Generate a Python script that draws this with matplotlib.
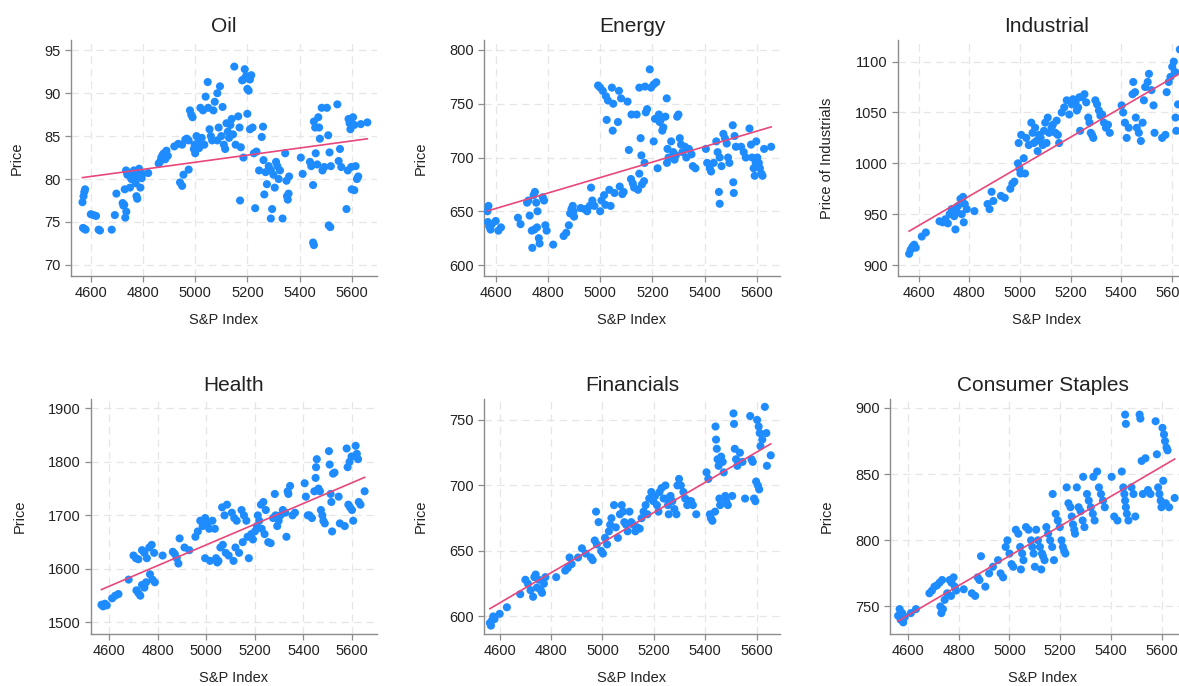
import numpy as np
import matplotlib
matplotlib.use("Agg")
import matplotlib.pyplot as plt

plt.rcParams['font.family'] = ['Liberation Sans', 'DejaVu Sans']

# ---- data (S&P index vs sector price) ----
oil_x = [4568, 4572, 4575, 4578, 4570, 4575, 4580,
         4600, 4610, 4620,
         4630, 4635,
         4680,
         4692, 4698,
         4722, 4725, 4728, 4732, 4736, 4730, 4735, 4738, 4740,
         4750, 4755, 4760, 4765, 4770, 4772, 4775, 4778, 4780, 4785, 4790, 4795, 4798,
         4820,
         4860, 4865, 4870, 4875, 4880, 4885, 4890, 4895,
         4920, 4935, 4950,
         4942, 4950, 4955,
         4962, 4968, 4975, 4980, 4985, 4990, 4975, 4995, 4998, 5000,
         5005, 5010, 5015, 5020, 5030, 5040, 5025, 5035,
         5048, 5050, 5055, 5060, 5065, 5070, 5075,
         5085, 5095, 5105, 5090, 5100, 5110, 5115, 5085, 5120,
         5125, 5130, 5135, 5140, 5150, 5145, 5155,
         5165, 5170, 5175, 5185, 5172, 5180, 5190, 5195, 5185,
         5200, 5205, 5210, 5215, 5200, 5210, 5220, 5225, 5235, 5230,
         5245, 5255, 5260, 5262, 5265, 5270, 5275,
         5282, 5290, 5290, 5295, 5300, 5305, 5310, 5315, 5320,
         5325, 5335, 5345, 5350, 5352, 5355, 5358, 5360,
         5405, 5412,
         5440, 5445, 5452, 5452, 5455, 5455, 5460, 5462, 5468,
         5472, 5475, 5478, 5485, 5488, 5495,
         5505, 5510, 5515, 5520, 5512, 5518,
         5545, 5550, 5555, 5560,
         5580, 5585, 5588, 5592, 5595, 5598, 5600,
         5605, 5610, 5615, 5620, 5610, 5625, 5635,
         5660]
oil_y = [77.3, 78.0, 78.5, 78.8, 74.3, 74.2, 74.1,
         75.9, 75.8, 75.7,
         74.1, 74.0,
         74.1,
         75.8, 78.3,
         77.2, 76.9, 77.0, 75.5, 76.2, 78.8, 81.0, 80.8, 80.5,
         79.0, 80.0, 80.3, 81.0, 80.0, 79.5, 78.0, 77.7, 80.8, 81.2, 79.0, 80.1, 80.6,
         80.7,
         81.8, 82.0, 82.5, 82.8, 83.0, 82.3, 83.3, 82.7,
         83.8, 84.1, 84.0,
         79.6, 79.2, 80.5,
         84.6, 84.7, 84.5, 88.0, 87.5, 87.2, 81.1, 83.5, 84.0, 83.0,
         85.0, 84.2, 83.6, 88.3, 88.0, 89.6, 84.8, 84.0,
         91.3, 88.3, 85.8, 85.0, 84.5, 88.0, 89.0,
         90.0, 90.8, 88.4, 86.0, 85.0, 84.0, 83.5, 84.5, 86.5,
         85.5, 84.8, 86.3, 87.0, 93.1, 85.2, 84.0,
         87.3, 86.0, 83.7, 82.5, 77.5, 91.5, 92.8, 92.0, 91.6,
         90.5, 90.3, 91.6, 92.1, 87.6, 85.8, 86.0, 83.0, 83.2, 76.6,
         81.0, 84.9, 86.1, 82.2, 78.2, 80.8, 79.4,
         81.5, 81.0, 75.4, 76.5, 80.5, 79.0, 82.0, 81.5, 80.0,
         81.0, 75.4, 83.0, 79.8, 78.0, 77.6, 78.3, 80.3,
         82.5, 80.6,
         82.0, 81.5, 79.3, 72.6, 72.3, 86.7, 86.0, 83.0, 81.7,
         87.2, 86.0, 84.7, 88.3, 81.0, 81.4,
         88.3, 85.1, 83.1, 81.5, 74.6, 74.4,
         88.7, 82.1, 83.5, 81.4,
         76.5, 81.0, 87.0, 86.5, 85.8, 81.4, 78.8,
         87.2, 86.3, 81.5, 80.0, 78.7, 80.3, 86.4,
         86.6]

en_x = [4568, 4572, 4570, 4575, 4580, 4585,
        4600, 4610, 4620,
        4685, 4695,
        4720, 4725, 4730, 4738, 4740,
        4745, 4750, 4755, 4760, 4748, 4758, 4765, 4768,
        4780, 4785, 4790, 4795,
        4820,
        4860, 4870, 4880,
        4885, 4890, 4895, 4898, 4900,
        4925, 4940, 4950, 4960,
        4965, 4970, 4978,
        4992, 5000, 5010, 5000, 5005, 5015, 5020,
        5022, 5030, 5025, 5035, 5040,
        5045, 5050, 5048, 5055,
        5072, 5080, 5068, 5075, 5085, 5090,
        5105, 5120, 5110, 5118, 5125, 5130,
        5140, 5150, 5155, 5158, 5150, 5160, 5145, 5168,
        5172, 5175, 5180, 5170, 5190, 5195,
        5205, 5215, 5210, 5205, 5225, 5228, 5220,
        5232, 5238, 5242, 5255, 5250, 5258, 5262, 5256,
        5272, 5280, 5285, 5290, 5295, 5300,
        5305, 5310, 5315, 5325, 5330,
        5340, 5350, 5355, 5365,
        5405, 5410, 5420, 5425, 5435,
        5445, 5450, 5458, 5455, 5458, 5465,
        5472, 5478, 5485, 5490, 5495,
        5508, 5515, 5520, 5510, 5512,
        5540, 5550, 5558,
        5572, 5578, 5582, 5588, 5592, 5596, 5598,
        5602, 5608, 5612, 5618, 5622, 5628,
        5655]
en_y = [650, 655, 640, 636, 633, 638,
        641, 632, 635,
        644, 638,
        658, 660, 646, 632, 616,
        665, 668, 658, 650, 633, 635, 625, 620,
        663, 660, 637, 632,
        619,
        627, 630, 637,
        648, 652, 655, 650, 645,
        653, 652, 650, 655,
        672, 660, 655,
        767, 765, 762, 650, 660, 665, 656,
        757, 753, 735, 670, 655,
        765, 750, 725, 667,
        762, 755, 733, 673, 666, 668,
        752, 740, 707, 680, 676, 672,
        740, 765, 718, 702, 685, 675, 670, 678,
        766, 742, 745, 695, 782, 765,
        768, 770, 736, 715, 740, 733, 690,
        735, 725, 728, 755, 738, 708, 700, 695,
        715, 705, 698, 702, 738, 740,
        718, 712, 705, 710, 700,
        708, 703, 692, 690,
        708, 695, 690, 687, 695,
        715, 705, 700, 668, 657, 692,
        722, 718, 713, 700, 695,
        730, 720, 710, 677, 667,
        710, 705, 700,
        727, 712, 700, 690, 683, 695, 715,
        700, 695, 690, 685, 683, 708,
        710]

ind_x = [4562, 4568, 4575, 4582, 4588,
         4612, 4628,
         4682, 4695, 4705, 4715,
         4722, 4730, 4740, 4745, 4750, 4755,
         4765, 4775, 4782, 4770, 4778, 4790,
         4820,
         4872, 4880, 4888, 4895,
         4925, 4940,
         4962, 4970, 4978,
         4992, 4998, 5002, 4995, 5005,
         5015, 5020, 5025, 5035,
         5045, 5050, 5055, 5065, 5070, 5075, 5060,
         5082, 5090, 5095, 5100, 5110, 5115, 5105,
         5125, 5130, 5140, 5145, 5150, 5155,
         5165, 5175, 5185, 5195,
         5205, 5210, 5220, 5225, 5230, 5235, 5238,
         5245, 5255, 5262, 5270, 5275, 5280,
         5285, 5290, 5298, 5305, 5312, 5318,
         5325, 5332, 5340, 5348, 5355,
         5402, 5408, 5415,
         5422, 5430, 5445, 5448, 5455, 5458,
         5462, 5470, 5478, 5485, 5490, 5495,
         5505, 5510, 5520, 5528, 5532,
         5562, 5575, 5580, 5588, 5595,
         5602, 5608, 5612, 5615, 5618, 5625,
         5632, 5640, 5648]
ind_y = [911, 915, 918, 920, 917,
         928, 932,
         943, 942, 945, 941,
         950, 955, 948, 935, 952, 958,
         965, 967, 960, 950, 942, 955,
         953,
         960, 955, 972, 963,
         968, 966,
         975, 980, 982,
         1000, 995, 990, 1020, 1028,
         1005, 990, 1025, 1018,
         1040, 1030, 1020, 1022, 1012, 1028, 1035,
         1025, 1018, 1032, 1040, 1045, 1030, 1020,
         1035, 1038, 1030, 1042, 1028, 1020,
         1050, 1055, 1062, 1048,
         1058, 1063, 1060, 1052, 1055, 1065, 1032,
         1065, 1068, 1060, 1045, 1040, 1030,
         1028, 1025, 1062, 1058, 1052, 1047,
         1048, 1040, 1035, 1038, 1030,
         1057, 1050, 1040,
         1025, 1035, 1068, 1080, 1070, 1045,
         1035, 1030, 1022, 1040, 1062, 1075,
         1080, 1088, 1072, 1057, 1030,
         1025, 1028, 1070, 1080, 1085,
         1095, 1100, 1090, 1045, 1032, 1058,
         1112, 1090, 1085]

hl_x = [4568, 4575, 4582, 4590,
        4612, 4625, 4638,
        4680,
        4700, 4710, 4720, 4712, 4720, 4728,
        4735, 4745, 4755, 4735, 4745, 4752,
        4765, 4775, 4785, 4768, 4778, 4788,
        4820,
        4862, 4870, 4878, 4885, 4890,
        4910, 4930,
        4955, 4965, 4975, 4985,
        4995, 5005, 5012, 4995, 5015,
        5025, 5035, 5040, 5045, 5050, 5058,
        5065, 5075, 5085, 5068, 5080, 5092,
        5105, 5115, 5125, 5112, 5120, 5135,
        5145, 5155, 5165, 5175, 5150, 5170,
        5185, 5192, 5200, 5208, 5212, 5218,
        5225, 5235, 5245, 5228, 5240, 5255,
        5265, 5275, 5285, 5282, 5292, 5298,
        5305, 5315, 5325, 5330, 5335, 5338,
        5345, 5355, 5365,
        5405, 5410, 5418,
        5425, 5435, 5445, 5450, 5452, 5455,
        5462, 5468, 5472, 5478, 5482, 5488,
        5505, 5508, 5512, 5515, 5518, 5522, 5528,
        5545, 5550, 5570, 5578,
        5582, 5590, 5598, 5585, 5592, 5600, 5605,
        5615, 5620, 5625, 5628, 5635,
        5652]
hl_y = [1533, 1530, 1535, 1532,
        1545, 1550, 1553,
        1580,
        1625, 1620, 1618, 1560, 1555, 1550,
        1635, 1630, 1620, 1570, 1565, 1575,
        1640, 1645, 1630, 1590, 1580, 1575,
        1625,
        1632, 1628, 1620, 1610, 1657,
        1640, 1635,
        1660, 1670, 1690, 1680,
        1695, 1685, 1675, 1620, 1615,
        1690, 1675, 1620, 1612, 1615, 1640,
        1715, 1700, 1720, 1645, 1630, 1625,
        1705, 1695, 1690, 1615, 1640, 1630,
        1710, 1700, 1690, 1620, 1650, 1660,
        1665, 1655, 1670, 1680, 1700, 1690,
        1720, 1725, 1710, 1675, 1665, 1650,
        1648, 1695, 1700, 1740, 1680, 1690,
        1700, 1710, 1705, 1660, 1745, 1740,
        1755, 1700, 1705,
        1760, 1735, 1700,
        1700, 1695, 1745, 1770, 1790, 1805,
        1750, 1745, 1710, 1700, 1690, 1685,
        1820, 1795, 1740, 1725, 1670, 1778, 1780,
        1735, 1685, 1680, 1825,
        1790, 1800, 1810, 1720, 1715, 1710, 1690,
        1830, 1815, 1805, 1725, 1720,
        1745]

fin_x = [4562, 4566, 4570, 4575, 4580,
         4600, 4628,
         4680,
         4700, 4710, 4720, 4730, 4735, 4740,
         4745, 4752, 4760, 4765, 4772, 4778,
         4820,
         4855, 4865, 4872, 4880,
         4905, 4920, 4935,
         4955, 4962, 4970, 4978, 4985, 4975,
         4995, 5002, 5010, 5018, 5025, 5030,
         5035, 5045, 5052, 5060, 5068,
         5075, 5080, 5085, 5092, 5098,
         5105, 5112, 5120, 5128, 5135,
         5145, 5152, 5160, 5168, 5175,
         5182, 5190, 5198, 5205, 5212, 5218,
         5222, 5230, 5238, 5245, 5250, 5255, 5258,
         5265, 5272, 5280, 5288, 5292, 5298,
         5305, 5315, 5322, 5330, 5338,
         5345, 5352, 5365,
         5405, 5412, 5418, 5422, 5428,
         5440, 5442, 5445, 5448, 5452, 5455, 5458, 5438,
         5462, 5468, 5472, 5478, 5482, 5488,
         5510, 5512, 5515, 5520, 5525, 5505,
         5535, 5545, 5555,
         5575, 5580, 5585, 5590, 5595, 5598,
         5602, 5608, 5612, 5615, 5605, 5610, 5622,
         5632, 5638, 5640, 5655]
fin_y = [595, 593, 597, 600, 598,
         602, 607,
         617,
         628, 625, 620, 615, 630, 632,
         622, 628, 620, 618, 625, 630,
         630,
         635, 637, 645, 640,
         645, 652, 648,
         645, 643, 658, 655, 672, 680,
         650, 648, 660, 655, 665, 670,
         675, 685, 668, 660, 678,
         685, 680, 672, 670, 665,
         680, 672, 670, 665, 668,
         667, 675, 680, 685, 678,
         690, 695, 688, 692, 685, 680,
         695, 698, 690, 700, 690, 685, 678,
         692, 688, 682, 678, 700, 705,
         700, 695, 690, 685, 688,
         688, 685, 678,
         710, 705, 678, 675, 673,
         745, 735, 728, 720, 715, 690, 685, 680,
         722, 718, 710, 692, 688, 685,
         755, 747, 728, 720, 715, 692,
         725, 718, 690,
         753, 720, 718, 690, 688, 703,
         750, 745, 740, 730, 700, 697, 735,
         760, 740, 715, 723]

cs_x = [4562, 4568, 4572, 4578, 4582, 4588,
        4612, 4632,
        4685, 4695, 4705, 4715,
        4725, 4735, 4728, 4732, 4738, 4745, 4755,
        4765, 4772, 4780, 4785, 4790, 4770,
        4820,
        4852, 4865, 4875, 4882, 4888,
        4905, 4920, 4935,
        4955, 4965, 4975,
        4985, 4992, 5000, 5008, 5015,
        5025, 5035, 5042, 5050, 5055, 5045,
        5065, 5075, 5085, 5090, 5095, 5100,
        5105, 5112, 5120, 5128, 5132, 5138, 5125,
        5145, 5152, 5160, 5168, 5175, 5170,
        5182, 5190, 5198, 5205, 5210, 5215, 5220,
        5225, 5232, 5240, 5245, 5250, 5255, 5258,
        5265, 5272, 5280, 5288, 5295, 5290,
        5305, 5312, 5320, 5328, 5335, 5330,
        5345, 5352, 5360, 5368, 5375,
        5402, 5412, 5425,
        5442, 5448, 5452, 5455, 5458, 5462, 5468, 5455, 5458,
        5480, 5488, 5495,
        5512, 5515, 5520, 5525,
        5535, 5545, 5555,
        5575, 5580, 5585, 5590, 5595, 5598,
        5602, 5608, 5612, 5618, 5622, 5605, 5615, 5628,
        5650]
cs_y = [743, 748, 740, 745, 738, 742,
        745, 748,
        760, 762, 765, 766,
        768, 770, 750, 745, 748, 755, 760,
        770, 768, 772, 765, 762, 758,
        763,
        760, 758, 772, 770, 788,
        765, 775, 780,
        785, 775, 772,
        795, 800, 790, 782, 780,
        808, 805, 795, 790, 785, 778,
        810, 808, 800, 795, 790, 780,
        808, 800, 795, 790, 788, 785, 778,
        810, 805, 800, 795, 785, 835,
        820, 815, 810, 800, 795, 792, 790,
        840, 828, 825, 818, 812, 808, 805,
        840, 825, 822, 815, 810, 848,
        835, 830, 825, 820, 815, 848,
        852, 840, 835, 830, 825,
        848, 818, 815,
        852, 840, 835, 830, 825, 820, 815, 895, 888,
        840, 835, 818,
        895, 892, 860, 835,
        862, 838, 835,
        890, 865, 840, 835, 830, 825,
        885, 880, 875, 870, 868, 845, 828, 825,
        832]

titles = ["Oil", "Energy", "Industrial", "Health", "Financials", "Consumer Staples"]
ylabels = ["Price", "Price", "Price of Industrials", "Price", "Price", "Price"]
series = [(oil_x, oil_y), (en_x, en_y), (ind_x, ind_y),
          (hl_x, hl_y), (fin_x, fin_y), (cs_x, cs_y)]
yticks = [np.arange(70, 96, 5), np.arange(600, 801, 50), np.arange(900, 1101, 50),
          np.arange(1500, 1901, 100), np.arange(600, 751, 50), np.arange(750, 901, 50)]
xticks = np.arange(4600, 5601, 200)

# layout in pixels: left, top, right, bottom ; limits
W, H = 1179, 686
rects = [(71, 40, 377, 276), (484, 40, 780, 276), (898, 40, 1195, 276),
         (91, 399, 377, 634), (484, 399, 780, 634), (890, 399, 1195, 634)]
xlims = [(4524, 5697), (4555, 5689), (4518, 5692),
         (4525, 5703), (4539, 5691), (4530, 5730)]
ylims = [(68.7, 96.2), (589.8, 809.3), (889.2, 1121.3),
         (1478.4, 1917.4), (586.6, 766), (729.2, 906.8)]

dot = '#1e8cff'
fitc = '#e8477a'
grid = '#e6e6e6'

fig = plt.figure(figsize=(W/100, H/100), dpi=100)
for i in range(6):
    l, t, r, b = rects[i]
    ax = fig.add_axes([l/W, 1-b/H, (r-l)/W, (b-t)/H])
    x, y = np.array(series[i][0], float), np.array(series[i][1], float)
    ax.scatter(x, y, s=34, color=dot, edgecolors='none', zorder=3)
    k, c = np.polyfit(x, y, 1)
    xs = np.array([x.min(), x.max()])
    ax.plot(xs, k*xs + c, color=fitc, lw=1.2, zorder=4)
    ax.set_xlim(*xlims[i])
    ax.set_ylim(*ylims[i])
    ax.set_xticks(xticks)
    ax.set_yticks(yticks[i])
    ax.grid(True, color=grid, lw=0.9, ls=(0, (6, 4)))
    ax.set_axisbelow(True)
    for s in ['top', 'right']:
        ax.spines[s].set_visible(False)
    for s in ['left', 'bottom']:
        ax.spines[s].set_color('#8c8c8c')
        ax.spines[s].set_linewidth(1.0)
    ax.tick_params(colors='#8c8c8c', labelcolor='#222222', labelsize=10.5, length=4, width=0.9)
    ax.set_title(titles[i], fontsize=15, color='#222222', pad=6)
    ax.set_xlabel("S&P Index", fontsize=10.5, color='#222222', labelpad=9)
    ax.set_ylabel(ylabels[i], fontsize=10.5, color='#222222', labelpad=15)

fig.savefig("out.png", dpi=100)
